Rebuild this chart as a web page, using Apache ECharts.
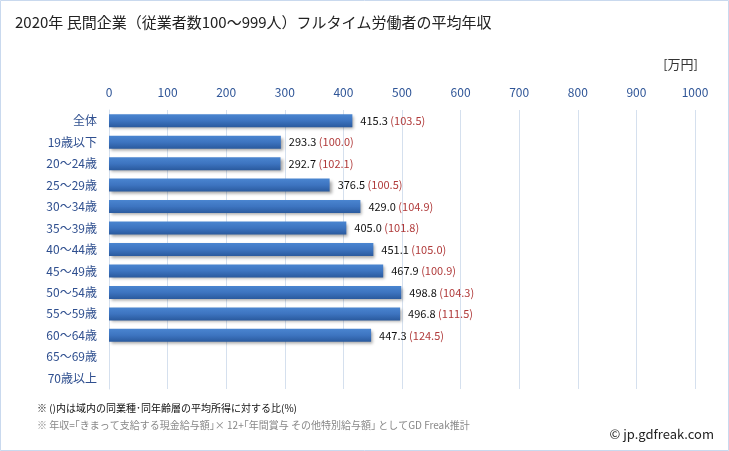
<!DOCTYPE html>
<html><head><meta charset="utf-8">
<script src="https://cdn.jsdelivr.net/npm/echarts@6/dist/echarts.min.js"></script>
<style>html,body{margin:0;padding:0;background:#fff}#c{width:729px;height:451px}</style>
</head><body><div id="c"></div>
<script>
const categories = ['全体','19歳以下','20～24歳','25～29歳','30～34歳','35～39歳','40～44歳','45～49歳','50～54歳','55～59歳','60～64歳','65～69歳','70歳以上'];
const values = [415.3,293.3,292.7,376.5,429.0,405.0,451.1,467.9,498.8,496.8,447.3,null,null];
const ratios = [103.5,100.0,102.1,100.5,104.9,101.8,105.0,100.9,104.3,111.5,124.5,null,null];
const xTicks = [0,100,200,300,400,500,600,700,800,900,1000];
const font = '"Noto Sans CJK JP","Noto Sans",sans-serif';
const chart = echarts.init(document.getElementById('c'));
chart.setOption({
  animation:false,
  backgroundColor:'#fff',
  graphic:[
    {type:'rect',shape:{x:0.5,y:0.5,width:728,height:450},style:{fill:'none',stroke:'#c9d9ee',lineWidth:1}},
    {type:'text',left:15,top:15,style:{text:'2020年 民間企業（従業者数100～999人）フルタイム労働者の平均年収',font:'15px '+font,fill:'#222'}},
    {type:'text',right:31,top:58,style:{text:'[万円]',font:'13px '+font,fill:'#333'}},
    {type:'text',left:37,top:403,style:{text:'※ ()内は域内の同業種･同年齢層の平均所得に対する比(%)',font:'10px '+font,fill:'#111'}},
    {type:'text',left:37,top:420,style:{text:'※ 年収=｢きまって支給する現金給与額｣× 12+｢年間賞与 その他特別給与額｣ としてGD Freak推計',font:'10px '+font,fill:'#888'}},
    {type:'text',right:15,top:428,style:{text:'© jp.gdfreak.com',font:'13px '+font,fill:'#222'}}
  ],
  grid:{left:109,right:34,top:110,bottom:62,containLabel:false},
  xAxis:{type:'value',min:xTicks[0],max:xTicks[xTicks.length-1],interval:xTicks[1]-xTicks[0],position:'top',
    axisLine:{show:false},axisTick:{show:false},
    axisLabel:{color:'#2f5597',fontSize:12,fontFamily:font,margin:12,formatter:v=>String(v)},
    splitLine:{lineStyle:{color:'#d5e0ee',width:1}}},
  yAxis:{type:'category',data:categories,inverse:true,
    axisLine:{show:true,lineStyle:{color:'#d5e0ee'}},axisTick:{show:false},
    axisLabel:{color:'#2f4f8f',fontSize:12,fontFamily:font,margin:12}},
  series:[{type:'bar',data:values,barWidth:13,
    itemStyle:{color:new echarts.graphic.LinearGradient(0,0,0,1,[{offset:0,color:'#4a85d0'},{offset:0.5,color:'#3d74c0'},{offset:1,color:'#2a5a9e'}]),
      shadowColor:'rgba(0,0,0,0.35)',shadowBlur:3,shadowOffsetX:2,shadowOffsetY:2},
    label:{show:true,position:'right',distance:8,fontFamily:font,fontSize:11,
      formatter:p=>p.value==null?'':'{v|'+p.value.toFixed(1)+'} {r|('+ratios[p.dataIndex].toFixed(1)+')}',
      rich:{v:{color:'#111',fontSize:11,fontFamily:font},r:{color:'#b03a3a',fontSize:11,fontFamily:font}}}
  }]
});
</script></body></html>
